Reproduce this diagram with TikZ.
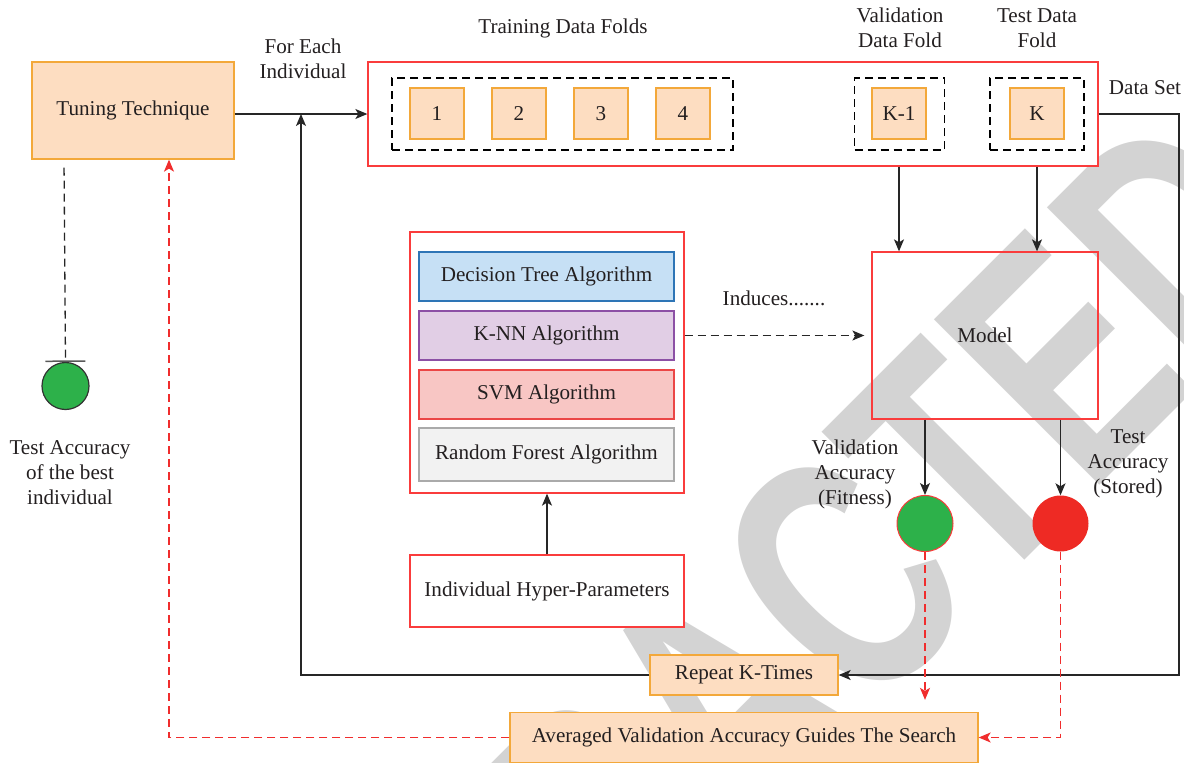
\documentclass[tikz,border=0pt]{standalone}
\usepackage{fontspec}
\setmainfont{Liberation Serif}
\newfontfamily\wmfont{Liberation Sans}
\usetikzlibrary{arrows.meta}
\definecolor{orfill}{RGB}{253,221,193}
\definecolor{orline}{RGB}{243,168,58}
\definecolor{redline}{RGB}{250,60,60}
\definecolor{redd}{RGB}{240,45,45}
\definecolor{dtfill}{RGB}{198,224,245}
\definecolor{dtline}{RGB}{46,117,182}
\definecolor{knnfill}{RGB}{225,206,229}
\definecolor{knnline}{RGB}{140,80,165}
\definecolor{svmfill}{RGB}{248,198,196}
\definecolor{svmline}{RGB}{235,70,70}
\definecolor{rffill}{RGB}{242,242,242}
\definecolor{rfline}{RGB}{170,170,170}
\definecolor{gfill}{RGB}{45,177,74}
\definecolor{rfillc}{RGB}{238,42,36}
\definecolor{txt}{RGB}{35,31,32}
\definecolor{wm}{RGB}{211,211,211}
\tikzset{
  box/.style={draw, rectangle, inner sep=0pt, line width=1.3pt, align=center},
  orbox/.style={box, draw=orline, fill=orfill},
  redbox/.style={box, draw=redline},
  dbox/.style={box, draw=black, dash pattern=on 8pt off 5pt},
  lab/.style={inner sep=0pt, align=center},
  arr/.style={line width=1.3pt, draw=black!85, -{Stealth[length=12pt,width=10pt,inset=3pt]}},
  rarr/.style={line width=1.3pt, draw=redd, dash pattern=on 8pt off 5pt, -{Stealth[length=12pt,width=10pt,inset=3pt]}},
  dline/.style={line width=1.3pt, draw=black!85, dash pattern=on 8pt off 5pt},
}
\begin{document}
\begin{tikzpicture}[x=1pt,y=-1pt, every node/.style={font=\fontsize{21.1}{25}\selectfont, text=txt}]
\useasboundingbox (0,0) rectangle (1184,763);
\clip (0,0) rectangle (1184,763);
% watermark
\node[rotate=45, text=wm, inner sep=0pt, font=\wmfont\bfseries\fontsize{340}{340}\selectfont] (wmark) at (721,699) {\scalebox{0.7}[1]{RETRACTED}};

% top row
\node[orbox, minimum width=202pt, minimum height=97pt] (tune) at (133,110.5) {Tuning Technique};
\node[redbox, fill=white, minimum width=730pt, minimum height=104pt] (bigbox) at (733,114) {};
\node[dbox, minimum width=341pt, minimum height=72pt] (dtrain) at (562.5,114) {};
\node[dbox, minimum width=90pt, minimum height=72pt] (dval) at (899.5,114) {};
\node[dbox, minimum width=94pt, minimum height=72pt] (dtest) at (1037,114) {};
\foreach \n/\x in {1/437,2/519,3/601,4/683}{
  \node[orbox, minimum width=54pt, minimum height=51pt] (f\n) at (\x,113.5) {\n};
}
\node[orbox, minimum width=54pt, minimum height=51pt] (fK1) at (899,113.5) {K-1};
\node[orbox, minimum width=54pt, minimum height=51pt] (fK) at (1037,113.5) {K};

\node[lab] (foreach) at (303,59) {For Each\\Individual};
\node[lab] (tdf) at (563,28) {Training Data Folds};
\node[lab] (vdf) at (900,28) {Validation\\Data Fold};
\node[lab] (tdfo) at (1037,28) {Test Data\\Fold};
\node[lab] (dset) at (1145,88) {Data Set};

% algorithms
\node[redbox, fill=white, minimum width=274pt, minimum height=261pt] (algo) at (547,362.5) {};
\node[box, draw=dtline, fill=dtfill, minimum width=255pt, minimum height=49pt] (dt) at (546.5,276.5) {Decision Tree Algorithm};
\node[box, draw=knnline, fill=knnfill, minimum width=255pt, minimum height=49pt] (knn) at (546.5,335.5) {K-NN Algorithm};
\node[box, draw=svmline, fill=svmfill, minimum width=255pt, minimum height=49pt] (svm) at (546.5,394.5) {SVM Algorithm};
\node[box, draw=rfline, fill=rffill, minimum width=255pt, minimum height=53pt] (rf) at (546.5,454.5) {Random Forest Algorithm};
\node[redbox, fill=white, minimum width=274pt, minimum height=72pt] (hyp) at (547,591) {Individual Hyper-Parameters};

% model
\node[redbox, minimum width=226pt, minimum height=167pt] (model) at (985,335.5) {Model};
\node[lab] (ind) at (774,298) {Induces.......};

% circles
\node[circle, draw=redline, line width=1pt, fill=gfill, minimum size=56pt, inner sep=0pt] (gc) at (925,523.5) {};
\node[circle, fill=rfillc, minimum size=56pt, inner sep=0pt] (rc) at (1060.5,523.5) {};
\node[lab] (va) at (855,474) {Validation\\Accuracy\\(Fitness)};
\node[lab] (ta) at (1128,463.5) {Test\\Accuracy\\(Stored)};

% left indicator
\node[circle, draw=black!80, line width=1.2pt, fill=gfill, minimum size=47pt, inner sep=0pt] (tbc) at (65.5,386) {};
\node[lab] (tab) at (70,473) {Test Accuracy\\of the best\\individual};

% bottom boxes
\node[orbox, minimum width=188pt, minimum height=40pt] (rep) at (744,675) {Repeat K-Times};
\node[orbox, minimum width=468pt, minimum height=50pt] (avg) at (744,737.5) {Averaged Validation Accuracy Guides The Search};

% coordinates
\coordinate (j) at (301,114);
\coordinate (ds) at (1179,114);

% connectors
\draw[line width=1.3pt, draw=black!85] (tune.east |- bigbox.west) -- (j);
\draw[arr] (j) -- (bigbox.west);
\draw[arr] (rep.west) -| (j);
\draw[arr] (bigbox.east) -- (ds) |- (rep.east);
\draw[arr] (fK1 |- bigbox.south) -- (fK1 |- model.north);
\draw[arr] (fK |- bigbox.south) -- (fK |- model.north);
\draw[arr] (hyp.north) -- (algo.south);
\draw[arr] (gc |- model.south) -- (gc.north);
\draw[arr] (rc |- model.south) -- (rc.north);
\draw[line width=1.3pt, draw=black!85, dash pattern=on 8pt off 5pt, -{Stealth[length=12pt,width=10pt,inset=3pt]}, shorten >=7pt] (algo.east |- knn.east) -- (model.west);
\draw[rarr, shorten >=12pt] (gc.south) -- (gc |- avg.north);
\draw[rarr] (rc.south) |- (avg.east);
\draw[rarr] (avg.west) -| ([xshift=36pt]tune.south);
\draw[dline, shorten <=8pt, -{Bar[width=40pt,line width=1.5pt,color=black!65]}] ([xshift=-69pt]tune.south) -- (tbc.north);
\end{tikzpicture}
\end{document}
